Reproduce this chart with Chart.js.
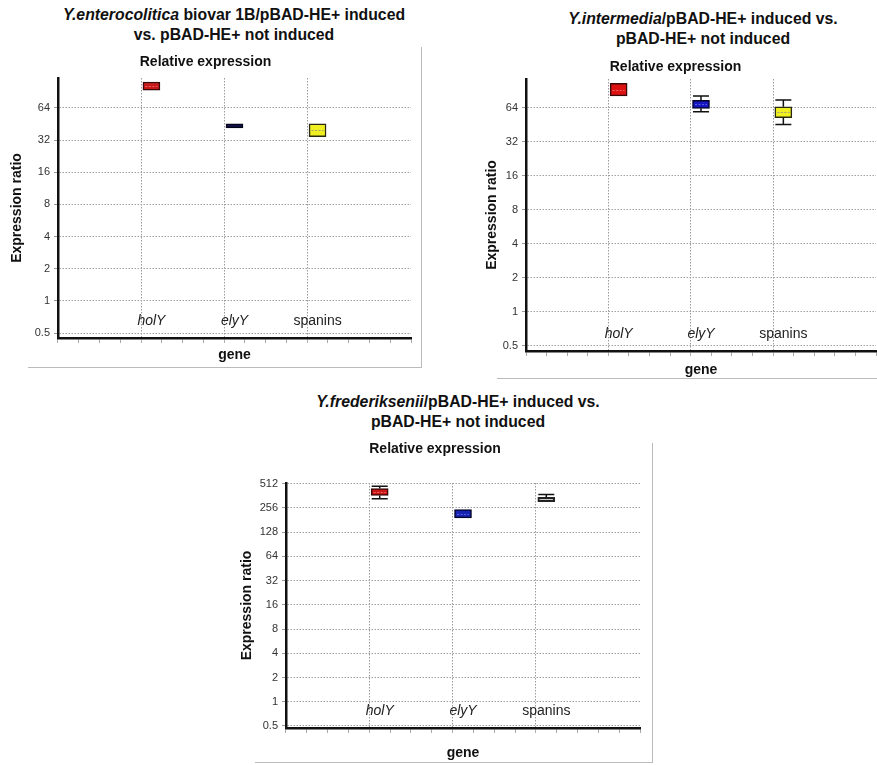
<!DOCTYPE html>
<html>
<head>
<meta charset="utf-8">
<script src="https://cdn.jsdelivr.net/npm/chart.js@4.4.1/dist/chart.umd.min.js"></script>
<style>
  body { margin: 0; background: #fff; font-family: "Liberation Sans", Arial, sans-serif; }
  #wrap { position: relative; width: 877px; height: 765px; overflow: hidden; }
  .ttl { position: absolute; text-align: center; font-weight: bold; font-size: 15.8px; line-height: 20px; color: #111; white-space: nowrap; }
  .frame { position: absolute; border-color: #bbb; border-style: solid; border-width: 0; }
  canvas { position: absolute; }
</style>
</head>
<body>
<div id="wrap">
  <div class="frame" style="left:28px;top:47px;width:393px;height:320px;border-right-width:1.5px;border-bottom-width:1.5px;"></div>
  <div class="frame" style="left:497px;top:50px;width:380px;height:328px;border-bottom-width:1.5px;"></div>
  <div class="frame" style="left:255px;top:443px;width:397px;height:319px;border-right-width:1.5px;border-bottom-width:1.5px;"></div>

  <div class="ttl" style="left:34px;top:5px;width:400px;"><i>Y.enterocolitica</i> biovar 1B/pBAD-HE+ induced<br>vs. pBAD-HE+ not induced</div>
  <div class="ttl" style="left:503px;top:9px;width:400px;"><i>Y.intermedia</i>/pBAD-HE+ induced vs.<br>pBAD-HE+ not induced</div>
  <div class="ttl" style="left:258px;top:392px;width:400px;"><i>Y.frederiksenii</i>/pBAD-HE+ induced vs.<br>pBAD-HE+ not induced</div>

  <canvas id="c1" width="430" height="325" style="left:0;top:45px;"></canvas>
  <canvas id="c2" width="437" height="331" style="left:440px;top:48px;"></canvas>
  <canvas id="c3" width="430" height="330" style="left:230px;top:435px;"></canvas>
</div>
<script>
// --- data ---
const categories = ['holY', 'elyY', 'spanins'];
const italicLabels = [true, true, false];

// Y. enterocolitica biovar 1B
const enteroQ1 = [94, 41.7, 34.4];
const enteroQ3 = [112, 45.4, 45.4];
const enteroMedian = [103, null, 40];
const enteroLow = [94, 41.7, 34.4];
const enteroHigh = [112, 45.4, 45.4];
const enteroTicks = [0.5, 1, 2, 4, 8, 16, 32, 64];

// Y. intermedia
const interQ1 = [82, 63.6, 52.6];
const interQ3 = [106, 75, 65.7];
const interMedian = [93, 69, 59];
const interLow = [82, 59.4, 45.8];
const interHigh = [106, 81.7, 75.2];
const interTicks = [0.5, 1, 2, 4, 8, 16, 32, 64];

// Y. frederiksenii
const fredQ1 = [364, 192, 306];
const fredQ3 = [444, 244, 346];
const fredMedian = [400, 217, null];
const fredLow = [331, 192, 306];
const fredHigh = [474, 244, 374];
const fredTicks = [0.5, 1, 2, 4, 8, 16, 32, 64, 128, 256, 512];

const FONT = '"Liberation Sans", Arial, sans-serif';

// whiskers, medians and the in-plot category names
const boxExtras = {
    id: 'boxExtras',
    afterDatasetsDraw(chart, args, opts) {
        const { ctx, chartArea } = chart;
        const xs = chart.scales.x, ys = chart.scales.y;
        const half = opts.capWidth / 2;
        ctx.save();
        opts.q1.forEach((q1, i) => {
            const px = xs.getPixelForValue(i + 1);
            const q3 = opts.q3[i], lo = opts.low[i], hi = opts.high[i];
            ctx.strokeStyle = '#111';
            ctx.lineWidth = 1.5;
            ctx.setLineDash([]);
            ctx.beginPath();
            if (hi > q3) {
                ctx.moveTo(px, ys.getPixelForValue(q3));
                ctx.lineTo(px, ys.getPixelForValue(hi));
                ctx.moveTo(px - half, ys.getPixelForValue(hi));
                ctx.lineTo(px + half, ys.getPixelForValue(hi));
            }
            if (lo < q1) {
                ctx.moveTo(px, ys.getPixelForValue(q1));
                ctx.lineTo(px, ys.getPixelForValue(lo));
                ctx.moveTo(px - half, ys.getPixelForValue(lo));
                ctx.lineTo(px + half, ys.getPixelForValue(lo));
            }
            ctx.stroke();
            const med = opts.median[i];
            if (med !== null) {
                const py = Math.round(ys.getPixelForValue(med)) + 0.5;
                ctx.strokeStyle = opts.medianColor[i];
                ctx.lineWidth = 1;
                ctx.setLineDash([2, 1.5]);
                ctx.beginPath();
                ctx.moveTo(px - half + 2, py);
                ctx.lineTo(px + half - 2, py);
                ctx.stroke();
            }
        });
        ctx.setLineDash([]);
        ctx.fillStyle = '#222';
        ctx.textAlign = 'center';
        ctx.textBaseline = 'middle';
        categories.forEach((name, i) => {
            ctx.font = (italicLabels[i] ? 'italic ' : '') + '14px ' + FONT;
            ctx.fillText(name, xs.getPixelForValue(i + 1), chartArea.bottom - 17);
        });
        ctx.restore();
    }
};

function isCategoryTick(c) {
    const v = c.tick ? c.tick.value : NaN;
    return Number.isInteger(v) && v > 0 && v < 4;
}

function makeChart(id, p) {
    return new Chart(document.getElementById(id), {
        type: 'bar',
        data: {
            datasets: [{
                data: p.q1.map((v, i) => ({ x: i + 1, y: [v, p.q3[i]] })),
                backgroundColor: p.fill,
                borderColor: p.edge,
                borderWidth: 1.5,
                borderSkipped: false,
                barThickness: 17
            }]
        },
        options: {
            responsive: false,
            animation: false,
            layout: { padding: { left: p.padLeft, right: p.padRight, top: 0, bottom: 0 } },
            plugins: {
                legend: { display: false },
                tooltip: { enabled: false },
                title: {
                    display: true,
                    text: 'Relative expression',
                    color: '#111',
                    font: { family: FONT, size: 14, weight: 'bold' },
                    padding: { top: p.titleTop, bottom: p.titleBottom }
                },
                boxExtras: {
                    q1: p.q1, q3: p.q3, low: p.low, high: p.high,
                    median: p.median, medianColor: p.medianColor, capWidth: 16
                }
            },
            scales: {
                x: {
                    type: 'linear',
                    min: 0,
                    max: 4,
                    afterFit: s => { s.height = p.xHeight; },
                    ticks: { stepSize: 0.25, display: false },
                    grid: {
                        color: c => isCategoryTick(c) ? '#9a9a9a' : 'rgba(0,0,0,0)',
                        tickColor: c => isCategoryTick(c) ? '#b0b0b0' : '#a8a8a8',
                        tickLength: 5
                    },
                    border: { display: true, color: '#111', width: 2.5, dash: [1.5, 1.5] },
                    title: {
                        display: true,
                        text: 'gene',
                        color: '#111',
                        font: { family: FONT, size: 14, weight: 'bold' },
                        padding: { top: 0, bottom: p.xTitlePad }
                    }
                },
                y: {
                    type: 'logarithmic',
                    min: p.yMin,
                    max: p.yMax,
                    afterFit: s => { s.width = p.yWidth; },
                    afterBuildTicks: s => { s.ticks = p.ticks.map(v => ({ value: v })); },
                    ticks: {
                        color: '#333',
                        padding: 4,
                        font: { family: FONT, size: 11 },
                        callback: v => String(v)
                    },
                    grid: { color: '#a0a0a0', tickColor: '#999', tickLength: 4 },
                    border: { display: true, color: '#111', width: 2.5, dash: [1.5, 1.5] },
                    title: {
                        display: true,
                        text: 'Expression ratio',
                        color: '#111',
                        font: { family: FONT, size: 14, weight: 'bold' },
                        padding: { top: 8.6, bottom: 0 }
                    }
                }
            }
        },
        plugins: [boxExtras]
    });
}

makeChart('c1', {
    q1: enteroQ1, q3: enteroQ3, median: enteroMedian, low: enteroLow, high: enteroHigh, ticks: enteroTicks,
    fill: ['#c81818', '#12124a', '#f0ef22'],
    edge: ['#3a0808', '#05051a', '#2a2a10'],
    medianColor: ['rgba(240,120,120,0.8)', '#000', '#a0a070'],
    yMin: 0.45, yMax: 122,
    padLeft: 0, padRight: 19, yWidth: 58, xHeight: 32, xTitlePad: 6.6,
    titleTop: 8.6, titleBottom: 7.6
});

makeChart('c2', {
    q1: interQ1, q3: interQ3, median: interMedian, low: interLow, high: interHigh, ticks: interTicks,
    fill: ['#dc1212', '#1616c2', '#f0ef22'],
    edge: ['#3a0808', '#05052a', '#2a2a10'],
    medianColor: ['rgba(240,120,120,0.8)', 'rgba(110,110,230,0.8)', '#a0a070'],
    yMin: 0.451, yMax: 115.6,
    padLeft: 35, padRight: 1, yWidth: 51, xHeight: 28, xTitlePad: 0.6,
    titleTop: 10.6, titleBottom: 3.6
});

makeChart('c3', {
    q1: fredQ1, q3: fredQ3, median: fredMedian, low: fredLow, high: fredHigh, ticks: fredTicks,
    fill: ['#cc1515', '#1522b2', 'rgba(0,0,0,0)'],
    edge: ['#3a0808', '#05052a', '#222'],
    medianColor: ['rgba(240,120,120,0.8)', 'rgba(110,110,230,0.8)', '#000'],
    yMin: 0.472, yMax: 520,
    padLeft: 0, padRight: 20, yWidth: 56, xHeight: 37, xTitlePad: 3.6,
    titleTop: 5.6, titleBottom: 25.6
});
</script>
</body>
</html>
